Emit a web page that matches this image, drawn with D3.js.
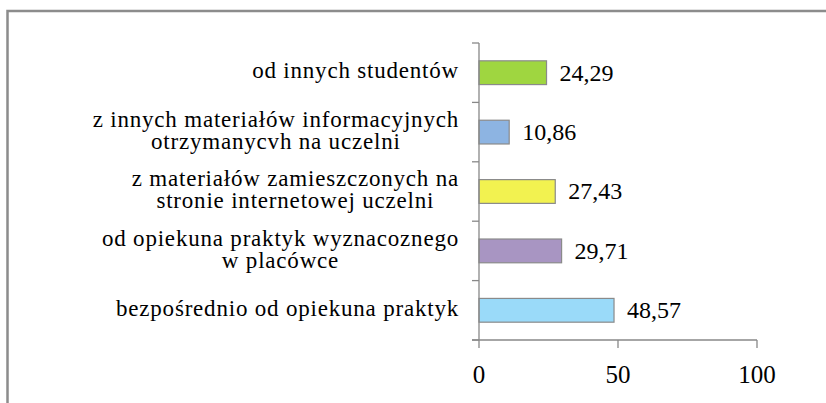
<!DOCTYPE html>
<html>
<head>
<meta charset="utf-8">
<script src="https://cdn.jsdelivr.net/npm/d3@7"></script>
<style>
  body { margin: 0; background: #fff; }
</style>
</head>
<body>
<div id="barChart"></div>
<script>
// categories (top to bottom), each label split into lines
var categories = [
  ['od innych studentów'],
  ['z innych materiałów informacyjnych', 'otrzymanycvh na uczelni'],
  ['z materiałów zamieszczonych na', 'stronie internetowej uczelni'],
  ['od opiekuna praktyk wyznacoznego', 'w placówce'],
  ['bezpośrednio od opiekuna praktyk']
];
var values = [24.29, 10.86, 27.43, 29.71, 48.57];
var valueLabels = ['24,29', '10,86', '27,43', '29,71', '48,57'];
var colors = ['#9fd640', '#8db4e2', '#f2f250', '#a895c2', '#9adaf9'];
var ticks = [0, 50, 100];

var FONT = "'Liberation Serif'";
var W = 826, H = 403;
var svg = d3.select('#barChart')
  .append('svg')
    .attr('width', W)
    .attr('height', H);

// outer frame (runs off the right and bottom edge)
svg.append('rect')
  .attr('x', 7.5).attr('y', 11)
  .attr('width', 900).attr('height', 500)
  .attr('fill', 'none')
  .attr('stroke', '#8c8c8c')
  .attr('stroke-width', 2.5);

var plot = {left: 479, right: 757, top: 43, bottom: 340};

var x = d3.scaleLinear()
  .domain([0, 100])
  .range([plot.left, plot.right]);

var y = d3.scaleBand()
  .domain(d3.range(values.length))
  .range([plot.top, plot.bottom])
  .paddingInner(0.6)
  .paddingOuter(0.3);

// bars
svg.selectAll('.bar')
  .data(values)
  .enter()
  .append('rect')
    .attr('class', 'bar')
    .attr('x', x(0))
    .attr('y', function(d, i) { return y(i); })
    .attr('width', function(d) { return x(d) - x(0); })
    .attr('height', y.bandwidth())
    .attr('fill', function(d, i) { return colors[i]; })
    .attr('stroke', '#8a8a8a')
    .attr('stroke-width', 1.2);

// value labels
svg.selectAll('.val')
  .data(values)
  .enter()
  .append('text')
    .attr('x', function(d) { return x(d) + 13; })
    .attr('y', function(d, i) { return y(i) + y.bandwidth() / 2; })
    .attr('dy', '0.33em')
    .attr('font-size', '24px')
    .style('font-family', FONT)
    .attr('fill', '#000')
    .text(function(d, i) { return valueLabels[i]; });

// vertical axis with category separators
var axisG = svg.append('g').attr('stroke', '#888').attr('stroke-width', 1.3);
axisG.append('line')
  .attr('x1', plot.left).attr('x2', plot.left)
  .attr('y1', plot.top).attr('y2', plot.bottom);
d3.range(values.length + 1).forEach(function(i) {
  var yy = plot.top + i * (plot.bottom - plot.top) / values.length;
  axisG.append('line')
    .attr('x1', plot.left - 7).attr('x2', plot.left)
    .attr('y1', yy).attr('y2', yy);
});

// horizontal axis
axisG.append('line')
  .attr('x1', plot.left - 7).attr('x2', plot.right)
  .attr('y1', plot.bottom).attr('y2', plot.bottom);
ticks.forEach(function(t) {
  axisG.append('line')
    .attr('x1', x(t)).attr('x2', x(t))
    .attr('y1', plot.bottom).attr('y2', plot.bottom + 8);
});
svg.selectAll('.tick-label')
  .data(ticks)
  .enter()
  .append('text')
    .attr('x', function(d) { return x(d); })
    .attr('y', 383)
    .attr('text-anchor', 'middle')
    .attr('font-size', '25px')
    .style('font-family', FONT)
    .text(function(d) { return d; });

// category labels
var lineH = 22;
categories.forEach(function(lines, i) {
  var cy = plot.top + (i + 0.5) * (plot.bottom - plot.top) / values.length;
  var g = svg.append('g');
  var t = g.append('text')
    .attr('font-size', '23px')
    .style('font-family', FONT)
    .style('letter-spacing', '0.8px')
    .attr('text-anchor', 'middle');
  lines.forEach(function(l, j) {
    t.append('tspan')
      .attr('x', 0)
      .attr('y', cy + (j - (lines.length - 1) / 2) * lineH)
      .attr('dy', '0.25em')
      .text(l);
  });
  var w = t.node().getBBox().width;
  g.attr('transform', 'translate(' + (459 - w / 2) + ',0)');
});
</script>
</body>
</html>
